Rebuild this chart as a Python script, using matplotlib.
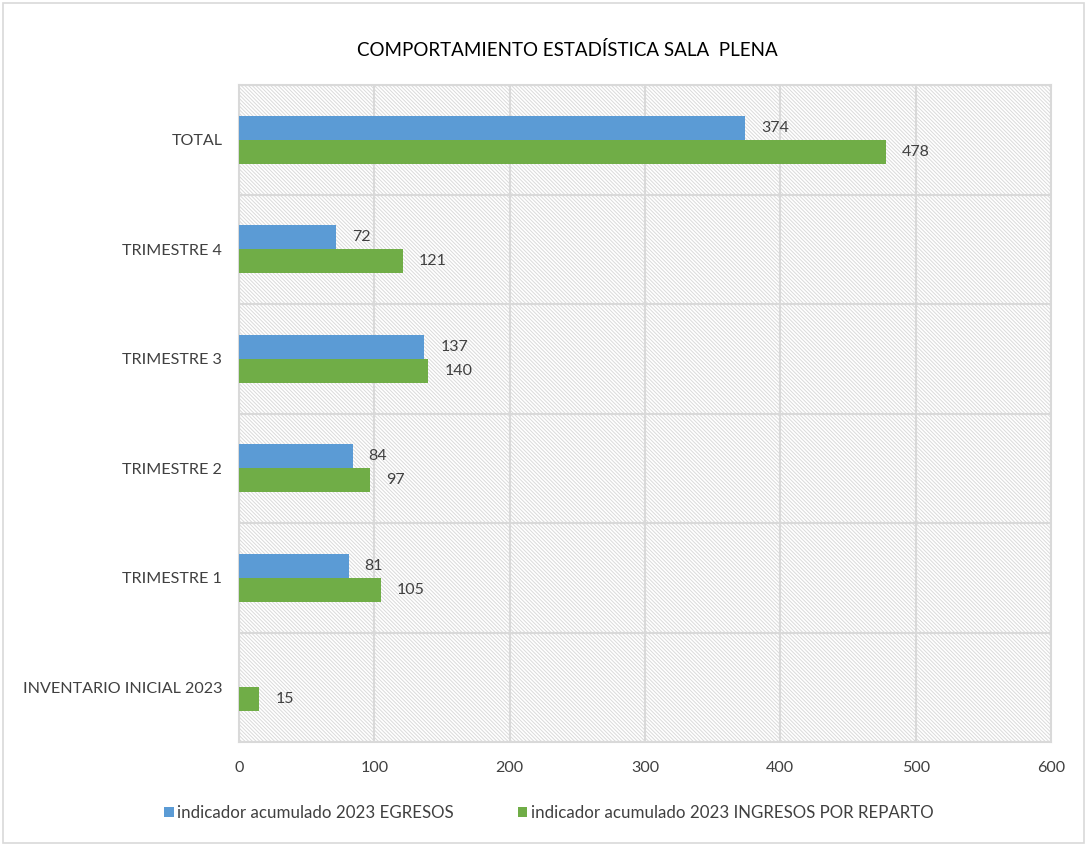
import numpy as np
import matplotlib.pyplot as plt
from matplotlib.patches import Rectangle

categories = ["INVENTARIO INICIAL 2023", "TRIMESTRE 1", "TRIMESTRE 2",
              "TRIMESTRE 3", "TRIMESTRE 4", "TOTAL"]
egresos = [np.nan, 81, 84, 137, 72, 374]
ingresos = [15, 105, 97, 140, 121, 478]
series_names = ["indicador acumulado 2023 EGRESOS",
                "indicador acumulado 2023 INGRESOS POR REPARTO"]
x_ticks = [0, 100, 200, 300, 400, 500, 600]

BLUE = "#5b9bd5"
GREEN = "#70ad47"
GRID = "#d9d9d9"
HATCH = "#dadada"

plt.rcParams.update({
    "font.family": ["Lato", "DejaVu Sans"],
    "hatch.linewidth": 0.7,
})

fig = plt.figure(figsize=(10.87, 8.46), dpi=100)
ax = fig.add_axes([239 / 1087, 1 - 742 / 846, (1051 - 239) / 1087, (742 - 85) / 846])

# outer chart border
fig.patches.append(Rectangle((3 / 1087, 3 / 846), 1 - 6 / 1087, 1 - 6 / 846,
                             transform=fig.transFigure, fill=False,
                             edgecolor=GRID, linewidth=1.2))

# hatched plot background
ax.add_patch(Rectangle((0, 0), 1, 1, transform=ax.transAxes, facecolor="white",
                       edgecolor=HATCH, hatch="\\" * 9, linewidth=0, zorder=0))

y = np.arange(len(categories))
h = 0.22
ax.barh(y + h / 2, egresos, height=h, color=BLUE, label=series_names[0], zorder=3)
ax.barh(y - h / 2, ingresos, height=h, color=GREEN, label=series_names[1], zorder=3)

for yi, v in zip(y, egresos):
    if not np.isnan(v):
        ax.annotate(f"{v:.0f}", (v, yi + h / 2), xytext=(11.5, 0), textcoords="offset points",
                    va="center", ha="left", fontsize=11.5, color="#404040")
for yi, v in zip(y, ingresos):
    ax.annotate(f"{v:.0f}", (v, yi - h / 2), xytext=(11.5, 0), textcoords="offset points",
                va="center", ha="left", fontsize=11.5, color="#404040")

ax.set_xlim(0, 600)
ax.set_ylim(-0.5, len(categories) - 0.5)
ax.set_xticks(x_ticks)
ax.set_yticks(y)
ax.set_yticklabels(categories)
ax.set_yticks(np.arange(-0.5, len(categories)), minor=True)
ax.tick_params(axis="both", which="both", length=0, labelsize=11.6, labelcolor="#404040")
ax.tick_params(axis="y", pad=12)
ax.tick_params(axis="x", pad=14)
ax.grid(True, axis="x", color=GRID, linewidth=1.5, zorder=1)
ax.grid(True, axis="y", which="minor", color=GRID, linewidth=1.5, zorder=1)
ax.set_axisbelow(True)
for s in ax.spines.values():
    s.set_color(GRID)
    s.set_linewidth(1.5)

fig.text(0.522, 1 - 50 / 846, "COMPORTAMIENTO ESTADÍSTICA SALA  PLENA",
         ha="center", va="center", fontsize=13.5, color="black")

ax.legend(loc="center", bbox_to_anchor=(0.505, 1 - 813 / 846), bbox_transform=fig.transFigure,
          ncol=2, frameon=False, fontsize=12.2, handlelength=0.55, handleheight=0.55,
          handletextpad=0.2, columnspacing=3.8, labelcolor="#404040")

fig.savefig("out.png", dpi=100)
